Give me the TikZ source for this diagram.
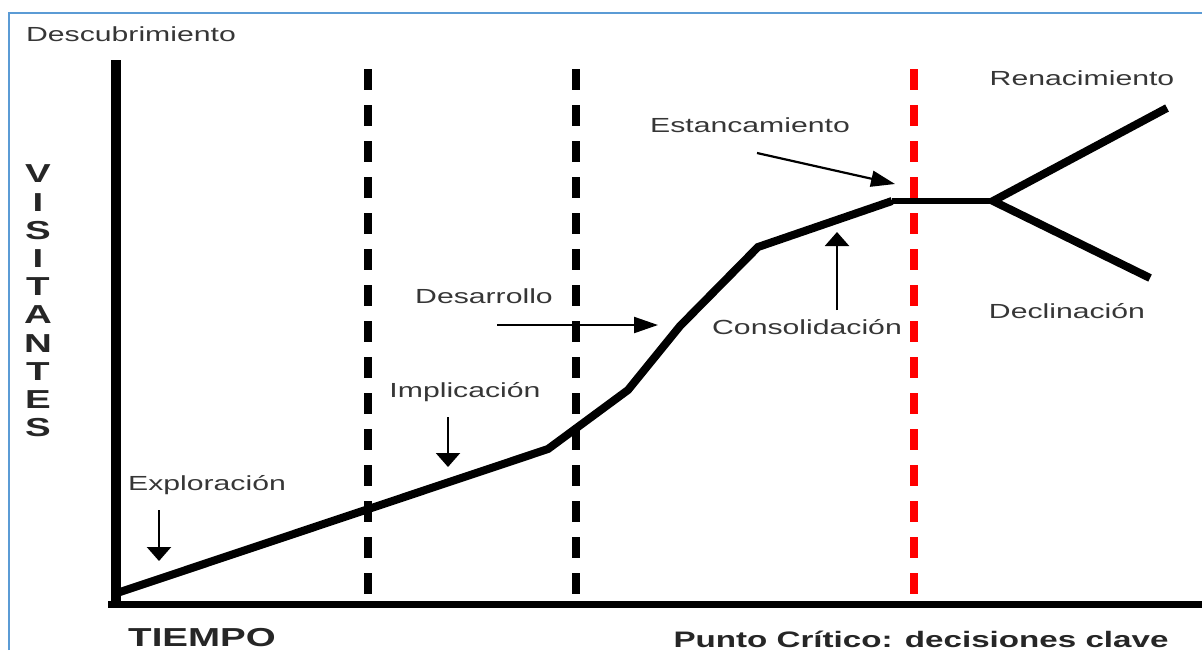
\documentclass[tikz,border=0pt]{standalone}
\usepackage{fontspec}
\usetikzlibrary{arrows.meta}

\newfontfamily\labelfont{Liberation Sans}[FakeStretch=1.48]
\definecolor{framebl}{HTML}{5B9BD5}
\definecolor{labelgray}{HTML}{363636}

\begin{document}
\begin{tikzpicture}[x=0.5pt, y=-0.5pt,
    stage/.style={font=\labelfont\fontsize{10.2}{12}\selectfont, text=labelgray, anchor=base, inner sep=0pt},
    axislabel/.style={font=\labelfont\bfseries\fontsize{13}{14.1}\selectfont, text=black!85, anchor=base, inner sep=0pt},
    lifecycle/.style={line width=4pt},
    phaseline/.style={line width=4.2pt, dash pattern=on 10.5pt off 7.5pt},
    downarrow/.style={line width=1.1pt, -{Triangle[length=7pt, width=12pt]}},
    sidearrow/.style={line width=1.1pt, -{Triangle[length=12pt, width=8pt]}}]
    \useasboundingbox (0, 0) rectangle (1202, 650);

    % Draw frame
    \draw[framebl, line width=1pt] (9, 650) -- (9, 13) -- (1202, 13);

    % Draw axes
    \draw[line width=5pt] (116, 60) -- (116, 601);
    \draw[line width=3.5pt] (108, 604) -- (1202, 604);

    % Draw phase limits
    \draw[phaseline] (368, 69) -- (368, 597);
    \draw[phaseline] (576, 69) -- (576, 597);
    \draw[phaseline, red] (914, 69) -- (914, 597);

    % Draw life cycle
    \coordinate (start) at (114, 594);
    \coordinate (slow) at (548, 449);
    \coordinate (takeoff) at (628, 390);
    \coordinate (rise) at (680, 326);
    \coordinate (mature) at (758, 247);
    \coordinate (plateau) at (892, 201);
    \coordinate (fork) at (993, 201);
    \coordinate (reborn) at (1167, 108);
    \coordinate (decline) at (1150, 278);

    \draw[lifecycle] (start) -- (slow) -- (takeoff) -- (rise) -- (mature) -- (plateau);
    \draw[line width=2.6pt] (plateau) -- (fork);
    \draw[lifecycle] (reborn) -- (fork) -- (decline);

    % Draw labels
    \node[stage] (descub) at (131, 41) {Descubrimiento};
    \node[stage] (explor) at (207, 490) {Exploración};
    \node[stage] (implic) at (465, 397) {Implicación};
    \node[stage] (desarr) at (484, 303) {Desarrollo};
    \node[stage] (consol) at (807, 334) {Consolidación};
    \node[stage] (estanc) at (750, 132) {Estancamiento};
    \node[stage] (renac) at (1082, 85) {Renacimiento};
    \node[stage] (declin) at (1067, 318) {Declinación};

    \node[axislabel, anchor=center, align=center] (visit) at (38, 301) {V\\I\\S\\I\\T\\A\\N\\T\\E\\S};
    \node[axislabel] (tiempo) at (202, 646) {TIEMPO};
    \node[axislabel, font=\labelfont\bfseries\fontsize{11.2}{12}\selectfont] (critico) at (921, 647) {Punto Crítico: decisiones clave};

    % Draw arrows
    \coordinate (explorA) at (159, 510);
    \coordinate (explorB) at (159, 561);
    \coordinate (implicA) at (448, 417);
    \coordinate (implicB) at (448, 467);
    \coordinate (desarrA) at (497, 325);
    \coordinate (desarrB) at (658, 325);
    \coordinate (consolA) at (837, 310);
    \coordinate (consolB) at (837, 232);
    \coordinate (estancA) at (757, 153);
    \coordinate (estancB) at (895, 184);

    \draw[downarrow] (explorA) -- (explorB);
    \draw[downarrow] (implicA) -- (implicB);
    \draw[sidearrow] (desarrA) -- (desarrB);
    \draw[downarrow] (consolA) -- (consolB);
    \draw[sidearrow] (estancA) -- (estancB);
\end{tikzpicture}
\end{document}
